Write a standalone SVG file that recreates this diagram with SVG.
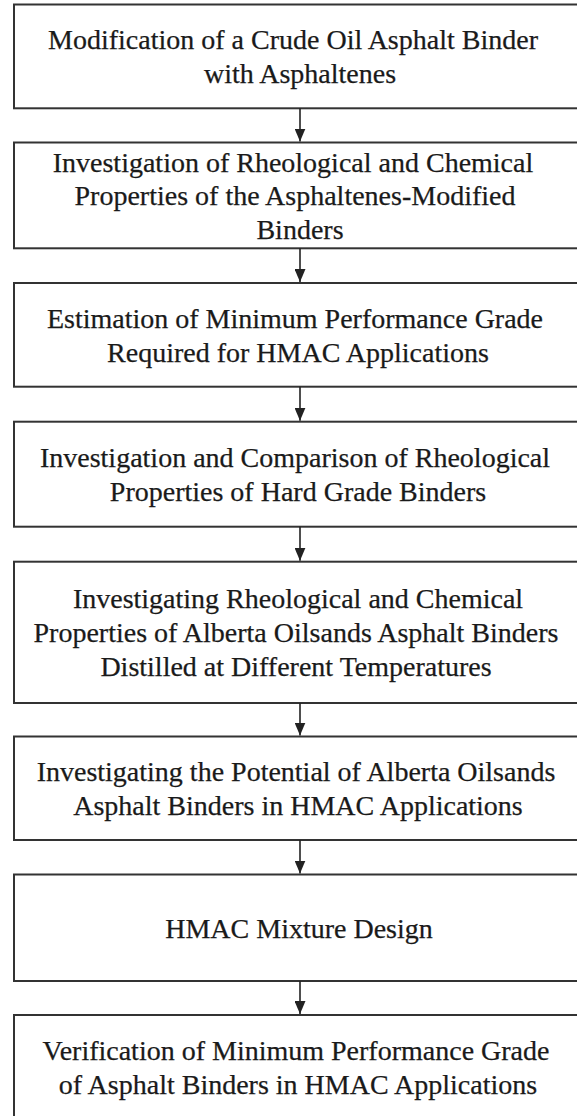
<svg xmlns="http://www.w3.org/2000/svg" width="577" height="1116" viewBox="0 0 577 1116">
<style>
.box{fill:#fff;stroke:#333;stroke-width:2}
.t{font-family:'Liberation Serif','DejaVu Serif',serif;font-size:28px;fill:#1a1a1a;stroke:#1a1a1a;stroke-width:0.25;text-anchor:middle}
.c{stroke:#222;stroke-width:1.6;fill:none}
</style>
<defs>
<marker id="ah" markerWidth="13" markerHeight="11" refX="13" refY="5.5" orient="auto" markerUnits="userSpaceOnUse" viewBox="0 0 13 11">
<path d="M0,0 L13,5.5 L0,11 Z" fill="#222"/>
</marker>
</defs>
<rect width="577" height="1116" fill="#fff"/>
<g id="n1"><rect class="box" x="14" y="4.5" width="600" height="103.8"/>
<text class="t" x="293" y="49.3">Modification of a Crude Oil Asphalt Binder</text>
<text class="t" x="300" y="83.3">with Asphaltenes</text></g>
<g id="n2"><rect class="box" x="14" y="142.5" width="600" height="105.8"/>
<text class="t" x="293" y="171.5">Investigation of Rheological and Chemical</text>
<text class="t" x="295" y="205.3">Properties of the Asphaltenes-Modified</text>
<text class="t" x="300" y="239">Binders</text></g>
<g id="n3"><rect class="box" x="14" y="283" width="600" height="103.7"/>
<text class="t" x="295" y="327.5">Estimation of Minimum Performance Grade</text>
<text class="t" x="298" y="361.5">Required for HMAC Applications</text></g>
<g id="n4"><rect class="box" x="14" y="421.7" width="600" height="105"/>
<text class="t" x="295" y="467">Investigation and Comparison of Rheological</text>
<text class="t" x="298" y="501">Properties of Hard Grade Binders</text></g>
<g id="n5"><rect class="box" x="14" y="561.7" width="600" height="141.3"/>
<text class="t" x="298" y="607.7">Investigating Rheological and Chemical</text>
<text class="t" x="296" y="641.7">Properties of Alberta Oilsands Asphalt Binders</text>
<text class="t" x="296" y="675.5">Distilled at Different Temperatures</text></g>
<g id="n6"><rect class="box" x="14" y="736.5" width="600" height="103.5"/>
<text class="t" x="296" y="781">Investigating the Potential of Alberta Oilsands</text>
<text class="t" x="298" y="815">Asphalt Binders in HMAC Applications</text></g>
<g id="n7"><rect class="box" x="14" y="874.5" width="600" height="106.5"/>
<text class="t" x="299" y="937.5">HMAC Mixture Design</text></g>
<g id="n8"><rect class="box" x="14" y="1015" width="600" height="110"/>
<text class="t" x="296" y="1060">Verification of Minimum Performance Grade</text>
<text class="t" x="298" y="1094">of Asphalt Binders in HMAC Applications</text></g>
<g id="connectors">
<line class="c" x1="300" y1="108.3" x2="300" y2="141.5" marker-end="url(#ah)"/>
<line class="c" x1="300" y1="248.3" x2="300" y2="282" marker-end="url(#ah)"/>
<line class="c" x1="300" y1="386.7" x2="300" y2="420.7" marker-end="url(#ah)"/>
<line class="c" x1="300" y1="526.7" x2="300" y2="560.7" marker-end="url(#ah)"/>
<line class="c" x1="300" y1="703" x2="300" y2="735.5" marker-end="url(#ah)"/>
<line class="c" x1="300" y1="840" x2="300" y2="873.5" marker-end="url(#ah)"/>
<line class="c" x1="300" y1="981" x2="300" y2="1014" marker-end="url(#ah)"/>
</g>
</svg>
